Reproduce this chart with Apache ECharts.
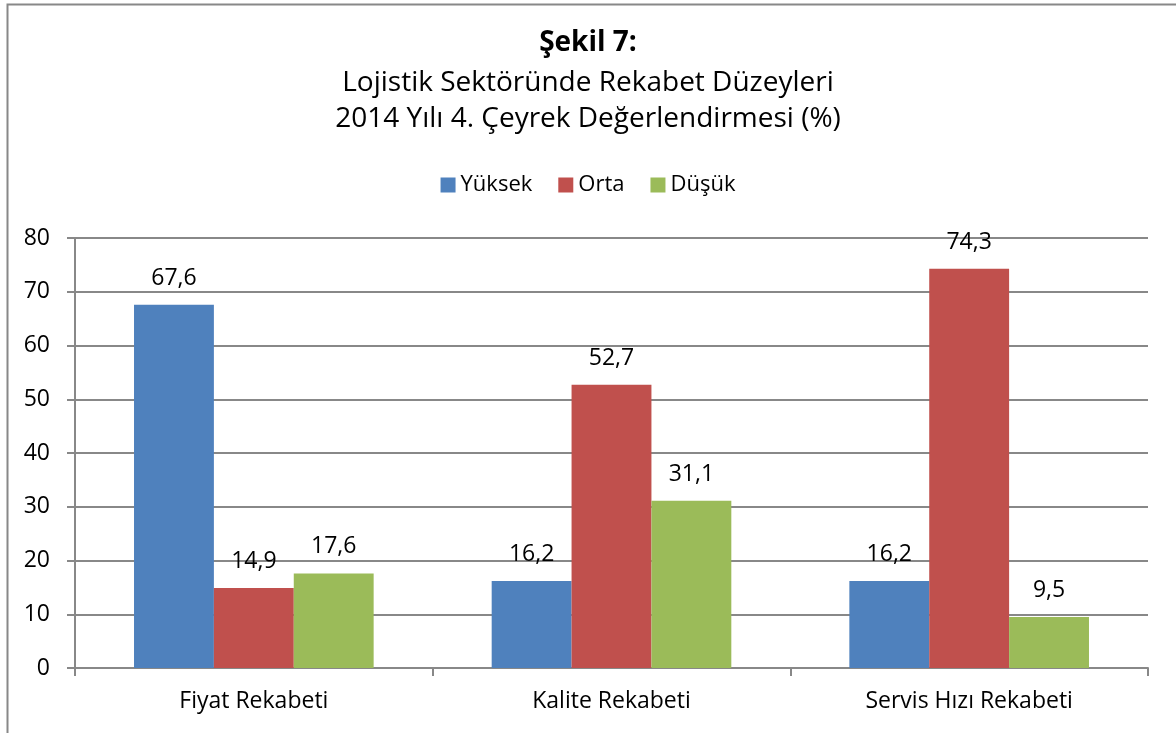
<!DOCTYPE html>
<html>
<head>
<meta charset="utf-8">
<script src="https://cdn.jsdelivr.net/npm/echarts@6/dist/echarts.min.js"></script>
<style>
  html, body { margin: 0; padding: 0; background: #fff; }
  #chart { width: 1176px; height: 733px; }
</style>
</head>
<body>
<div id="chart"></div>
<script>
// veriler
var categories = ["Fiyat Rekabeti", "Kalite Rekabeti", "Servis Hızı Rekabeti"];
var seriesNames = ["Yüksek", "Orta", "Düşük"];
var yuksek = [67.6, 16.2, 16.2];
var orta = [14.9, 52.7, 74.3];
var dusuk = [17.6, 31.1, 9.5];
var colors = ["#4f81bd", "#c0504d", "#9bbb59"];

var font = "'Open Sans', sans-serif";

function makeSeries(name, data, color) {
  return {
    name: name,
    type: "bar",
    data: data,
    barGap: "0%",
    barCategoryGap: "33%",
    itemStyle: { color: color },
    label: {
      show: true,
      position: "top",
      distance: 15,
      color: "#000",
      fontFamily: font,
      fontSize: 23,
      formatter: function (p) {
        return String(p.value).replace(".", ",");
      }
    }
  };
}

var option = {
  animation: false,
  title: [
    {
      text: "Şekil 7:",
      left: "center",
      top: 20,
      textStyle: { fontFamily: font, fontSize: 28, fontWeight: "bold", color: "#000", lineHeight: 36 }
    },
    {
      text: "Lojistik Sektöründe Rekabet Düzeyleri\n2014 Yılı 4. Çeyrek Değerlendirmesi (%)",
      left: "center",
      top: 60,
      textStyle: { fontFamily: font, fontSize: 28, fontWeight: "normal", color: "#000", lineHeight: 36 }
    }
  ],
  legend: {
    top: 169,
    left: "center",
    itemWidth: 15,
    itemHeight: 15,
    itemGap: 26,
    icon: "rect",
    textStyle: { fontFamily: font, fontSize: 22, color: "#000" },
    data: seriesNames
  },
  grid: { left: 75, right: 28, top: 238, bottom: 65 },
  xAxis: {
    type: "category",
    data: categories,
    axisLine: { lineStyle: { color: "#888", width: 2 } },
    axisTick: { show: true, length: 8, lineStyle: { color: "#888", width: 2 } },
    axisLabel: { fontFamily: font, fontSize: 23, color: "#000", margin: 22 }
  },
  yAxis: {
    type: "value",
    min: 0,
    max: 80,
    interval: 10,
    axisLine: { show: true, lineStyle: { color: "#888", width: 2 } },
    axisTick: { show: true, length: 8, lineStyle: { color: "#888", width: 2 } },
    splitLine: { lineStyle: { color: "#888", width: 2 } },
    axisLabel: { fontFamily: font, fontSize: 23, color: "#000", margin: 25 }
  },
  graphic: [
    {
      type: "rect",
      left: 5,
      top: 2,
      shape: { width: 1200, height: 800 },
      style: { fill: "none", stroke: "#888", lineWidth: 2 },
      silent: true
    }
  ],
  series: [
    makeSeries(seriesNames[0], yuksek, colors[0]),
    makeSeries(seriesNames[1], orta, colors[1]),
    makeSeries(seriesNames[2], dusuk, colors[2])
  ]
};

var myChart = echarts.init(document.getElementById("chart"));
myChart.setOption(option);
</script>
</body>
</html>
